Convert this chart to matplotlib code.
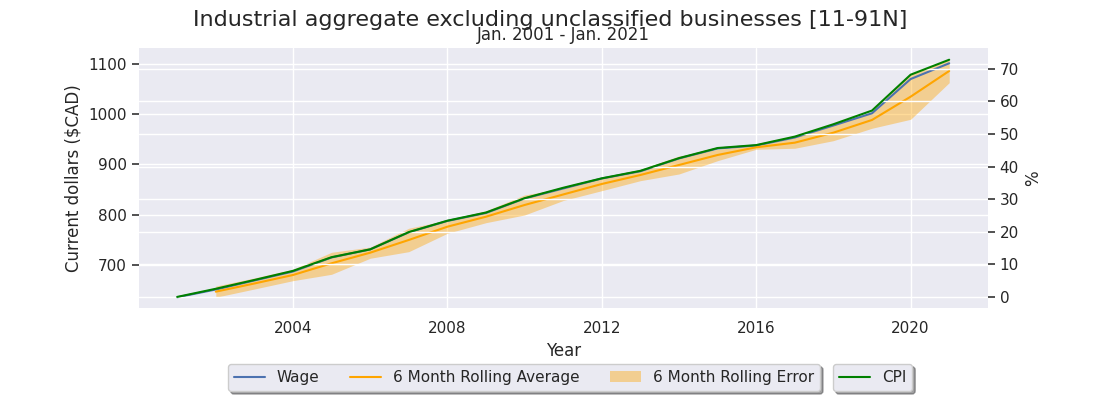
import matplotlib
matplotlib.use("Agg")
import matplotlib.pyplot as plt
import seaborn as sns
import numpy as np

sns.set_theme(style="darkgrid")
plt.rcParams['font.family'] = ['DejaVu Sans']

years = [2001, 2002, 2003, 2004, 2005, 2006, 2007, 2008, 2009, 2010, 2011,
         2012, 2013, 2014, 2015, 2016, 2017, 2018, 2019, 2020, 2021]
wage = [635.7, 651.2, 669.2, 687.0, 715.0, 731.0, 765.0, 787.6, 803.5, 832.3, 852.2,
        872.1, 886.5, 912.0, 931.8, 937.8, 953.7, 977.6, 1001.9, 1070.0, 1101.4]
avg_years = years[1:]
rolling_avg = [646.9, 663.2, 680.1, 703.4, 724.5, 749.8, 776.2, 796.1, 819.4, 840.3,
               861.2, 879.1, 899.0, 918.9, 934.2, 943.4, 963.3, 988.6, 1034.9, 1086.1]
rolling_err = [11.1, 11.0, 11.3, 21.9, 11.1, 23.3, 13.1, 11.9, 19.9, 12.0,
               13.3, 11.3, 17.9, 11.3, 4.0, 11.1, 15.9, 16.5, 45.0, 23.3]
cpi_pct = [0.0, 2.5, 5.2, 8.0, 12.2, 14.6, 19.9, 23.4, 25.9, 30.3, 33.5,
           36.4, 38.7, 42.6, 45.7, 46.6, 49.2, 53.0, 57.2, 68.2, 72.8]

fig = plt.figure(figsize=(11, 4), dpi=100)
ax = fig.add_axes([0.126, 0.23, 0.772, 0.65])
ax2 = ax.twinx()

avg = np.array(rolling_avg)
err = np.array(rolling_err)
l1, = ax.plot(years, wage, color='#4c72b0', lw=1.5, label='Wage')
l2, = ax.plot(avg_years, avg, color='orange', lw=1.5, label='6 Month Rolling Average')
f1 = ax.fill_between(avg_years, avg - err, avg + err, color='orange', alpha=0.4,
                     lw=0, label='6 Month Rolling Error')
l3, = ax2.plot(years, cpi_pct, color='green', lw=1.5, label='CPI')

ax.set_xlim(2000, 2022)
ax.set_ylim(614.4, 1131.8)
ax2.set_ylim(-3.4, 76.4)
ax.set_xticks([2004, 2008, 2012, 2016, 2020])
ax.set_yticks([700, 800, 900, 1000, 1100])
ax2.set_yticks([0, 10, 20, 30, 40, 50, 60, 70])

ax.tick_params(axis='y', left=True, length=5, width=1.2, color='#333333', labelsize=11)
ax.tick_params(axis='x', bottom=False, labelsize=11)
ax2.tick_params(axis='y', right=True, length=5, width=1.2, color='#333333', labelsize=11)
for a in (ax, ax2):
    for s in a.spines.values():
        s.set_visible(False)

ax.set_xlabel('Year', fontsize=12)
ax.set_ylabel('Current dollars ($CAD)', fontsize=12)
ax2.set_ylabel('%', fontsize=12)

fig.suptitle('Industrial aggregate excluding unclassified businesses [11-91N]',
             fontsize=16, y=0.975, va='top')
ax.set_title('Jan. 2001 - Jan. 2021', fontsize=12, pad=5.5)

leg1 = fig.legend(handles=[l1, l2, f1], ncol=3, loc='upper left',
                  bbox_to_anchor=(228 / 1100, 1 - 364 / 400), shadow=True,
                  fontsize=11, frameon=True, facecolor='#eaeaf2', edgecolor='#cccccc',
                  framealpha=1, borderaxespad=0)
leg2 = fig.legend(handles=[l3], ncol=1, loc='upper left',
                  bbox_to_anchor=(833 / 1100, 1 - 364 / 400), shadow=True,
                  fontsize=11, frameon=True, facecolor='#eaeaf2', edgecolor='#cccccc',
                  framealpha=1, borderaxespad=0)

fig.savefig('out.png', dpi=100)
